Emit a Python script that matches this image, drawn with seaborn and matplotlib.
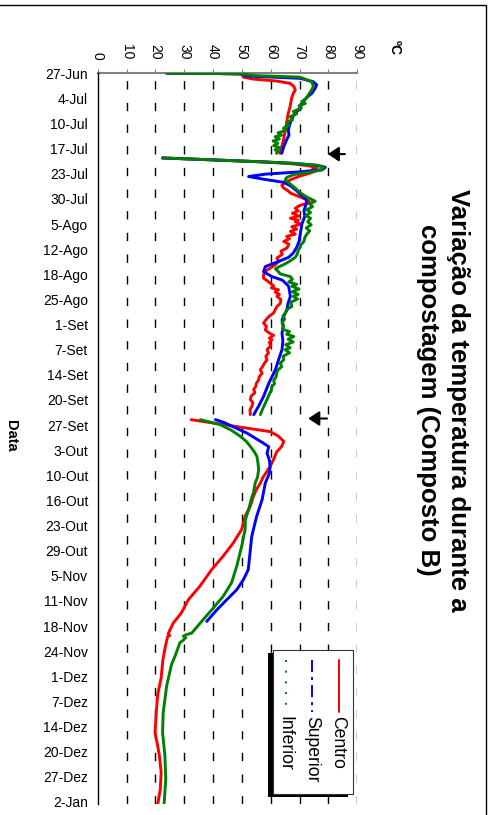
"""Variação da temperatura durante a compostagem (Composto B) - figura girada."""
import numpy as np
import pandas as pd
import matplotlib
matplotlib.use("Agg")
import matplotlib.pyplot as plt
from matplotlib.patches import Rectangle
from matplotlib.lines import Line2D
import seaborn as sns

sns.set_style("white")
plt.rcParams["font.family"] = ["Liberation Sans", "DejaVu Sans"]
plt.rcParams.update({"text.color": "black", "xtick.color": "black", "ytick.color": "black",
                     "axes.labelcolor": "black"})

# ── dados (dias desde 27-Jun, temperatura em ºC; NaN = interrupção) ──────
centro_dia = [0, 0.05, 0.15, 1.0, 1.5, 2.0, 2.6, 3.4, 4.3, 5.2, 6.5, 8.6, 10.5, 12.9, 15, 17.2, 19, 20.7, np.nan,
              21.9, 22.4, 22.9, 23.3, 23.8, 24.3, 24.8, 25.3, 25.8, 26.6, 27.5, 28.3, 29.0, 29.7, 30.4, 31.0,
              31.8, 32.4, 32.8, 33.4, 34.2, 34.9, 35.6, 36.2, 36.9, 37.5, 38.0, 38.4, 39.0, 39.7, 40.3, 40.9,
              41.6, 42.2, 42.8, 43.5, 44.2, 45.2, 46.0, 46.8, 47.8, 48.6, 49.5, 50.3, 51.0, 52.1, 53.0, 53.8,
              54.3, 55.0, 55.5, 56.0, 56.6, 57.2, 57.7, 58.5, 59.5, 60.3, 61.2, 62.0, 62.8, 63.6, 64.6, 65.5,
              66.4, 67.2, 67.8, 68.5, 68.9, 69.6, 70.5, 71.5, 72.3, 73.2, 74.1, 75.0, 75.8, 76.7, 77.6, 78.5,
              79.3, 80.2, 81.0, 81.8, 82.6, 83.5, 84.4, 85.2, 86.1, 87.0, 88.3, np.nan,
              89.6, 92.7, 93.8, 95.2, 96.5, 98.0, 99.5, 100.8, 103.0, 104.5, 106.0, 107.7, 109.4, 112.0, 114.6,
              118.0, 121.5, 124.9, 128.4, 132.7, 136.2, 139.6, 142.2, 145.0, 145.4, 145.8, 148.5, 151.7, 156.4,
              160.7, 165.4, 170.6, 174.0, 176.6, 180.9, 185.2, 189.1]
centro_temp = [24, 40, 50, 50.5, 54, 62, 66.7, 68, 68.5, 67.8, 67.2, 66.7, 66, 65.5, 65, 64.4, 63.8, 63.2, np.nan,
               22.5, 40, 56, 66, 72, 76, 74.5, 75.5, 73.7, 70, 67, 65, 63.8, 64.5, 66, 66.8,
               69.5, 71.5, 72.5, 73.7, 70, 68.5, 69.5, 67.5, 69.8, 66.8, 69.5, 68.5, 70.5, 67.3, 69, 66.8,
               68.5, 65.5, 66.5, 64.5, 66.3, 65.6, 63.5, 64, 62.1, 62.8, 61.6, 60, 58.5, 57.5, 57.5, 59,
               59.8, 61, 60.2, 62.7, 61.5, 63, 62.1, 63.5, 63.3, 62.2, 61.5, 61, 59.5, 58.5, 57.5, 58.5,
               58.1, 59.5, 61, 59.5, 60.4, 59.5, 60, 58.7, 59.2, 58.3, 58.7, 57.8, 57.2, 56.4, 57, 56,
               55.8, 55, 54.8, 54.1, 54.5, 53.2, 52.9, 53.8, 53.5, 52.8, 52.9, np.nan,
               32.4, 59.8, 62.5, 64.5, 63.8, 62, 61.2, 60.4, 58.7, 57.3, 56.4, 55, 54, 52.9, 51.1,
               49.9, 47, 43.5, 39.5, 35.4, 31.4, 29, 26.2, 24.4, 25, 24.2, 23.4, 22.6, 22.0,
               20.8, 20.3, 19.9, 20.8, 21.4, 22.0, 21.7, 20.8]

superior_dia = [0, 0.05, 0.15, 0.7, 1.3, 2.2, 3.0, 4.0, 5.2, 6.2, 7.3, 8.4, 9.5, 11.0, 12.9, 14.6, 16.0, 17.2,
                19.0, 20.7, np.nan,
                21.9, 22.4, 22.9, 23.3, 23.8, 24.3, 24.9, 25.5, 26.1, 26.7, 27.4, 28.2, 29.2, 30.4, 31.5, 32.8,
                34.0, 35.5, 37.0, 39.0, 41.6, 43.5, 45.0, 46.5, 47.6, 48.5, 50.0, 51.3, 52.6, 53.5, 55.1, 57.7,
                59.5, 61.2, 63.8, 65.5, 67.2, 69.3, 71.5, 74.1, 76.7, 80.2, 83.6, 86.1, 88.3, np.nan,
                89.6, 90.3, 93.1, 95.7, 96.6, 98.3, 100.0, 101.8, 103.5, 106.0, 110.3, 114.6, 119.8, 124.1,
                128.4, 131.0, 133.6, 136.2, 138.8, 141.8]
superior_temp = [24, 40, 49.4, 51.7, 70.2, 74.8, 75.9, 75.3, 74.2, 72.5, 71.3, 70.5, 69.6, 67.8, 66.7, 66.1, 66.3,
                 65.5, 64.5, 63.8, np.nan,
                 22.5, 40, 57, 68, 76, 78.9, 78, 70, 58, 52.3, 57.5, 64.5, 67, 69, 70.5, 72.5,
                 72.2, 71.5, 71.8, 70.8, 70.2, 69.8, 69, 67.8, 66.2, 63.3, 58.1, 57.5, 60.4, 64, 66.2, 66.8,
                 66, 65.6, 63.9, 64.3, 63.9, 64.2, 63.9, 62.7, 61.6, 59.3, 57.5, 55.8, 54.1, np.nan,
                 40.8, 43.7, 51.8, 57.5, 59.3, 58.7, 59.5, 59.8, 59.5, 58.1, 57, 55.1, 53.4, 52.8,
                 52.2, 50.5, 48.2, 44.7, 41.3, 37.8]

inferior_dia = [0, 0.05, 0.15, 0.6, 1.0, 2.2, 3.4, 4.5, 5.6, 6.4, 7.3, 7.8, 8.4, 9.0, 9.9, 10.5, 11.2, 12.1, 12.7,
                13.4, 14.2, 14.8, 15.4, 16.0, 16.4, 17.0, 17.5, 18.1, 18.7, 19.3, 19.8, 20.3, 20.7, np.nan,
                21.9, 22.4, 22.9, 23.3, 23.8, 24.3, 25.0, 25.6, 26.2, 26.9, 27.6, 28.5, 29.5, 30.9, 32.0, 33.1,
                33.8, 34.5, 35.3, 36.0, 36.8, 37.5, 38.4, 39.2, 40.0, 40.8, 41.6, 42.5, 43.5, 44.3, 45.0, 45.8,
                46.8, 47.6, 48.5, 49.3, 50.0, 50.6, 51.2, 51.9, 52.6, 53.3, 54.0, 54.6, 55.1, 55.8, 56.5, 57.2,
                57.7, 58.4, 59.2, 60.3, 61.0, 62.0, 62.8, 63.6, 64.6, 65.4, 66.2, 66.8, 67.5, 68.1, 68.8, 69.5,
                70.2, 71.0, 71.5, 72.3, 73.2, 74.1, 75.0, 75.9, 76.7, 77.5, 78.6, 79.5, 80.3, 81.0, 82.0, 83.0,
                84.4, 85.5, 86.8, 88.3, np.nan,
                89.6, 90.9, 92.4, 93.9, 95.2, 96.5, 97.8, 99.1, 101.0, 102.6, 104.5, 106.0, 108.5, 109.5, 112.9,
                115.5, 118.0, 122.4, 127.5, 131.8, 135.3, 138.3, 141.3, 144.8, 145.2, 145.6, 146.0, 146.5, 147.3,
                150.8, 152.9, 158.5, 165.4, 170.6, 176.6, 182.6, 189.1]
inferior_temp = [24, 40, 49.4, 55, 70.2, 74.2, 74.8, 74, 73, 72.5, 70.7, 72, 69.8, 70.6, 67.8, 69, 66.8, 67.5, 65.5,
                 66.3, 64.4, 65.2, 62.5, 63.8, 61.5, 63, 60.8, 62.5, 61, 63.3, 61.5, 62.7, 62, np.nan,
                 22.5, 40, 57, 68, 76, 78.3, 77.8, 73, 68, 65.6, 65, 66.5, 68.2, 70.2, 72.5, 75.4,
                 73.5, 74.5, 72.5, 73.8, 72.2, 73.8, 72.8, 74, 72.3, 73.5, 72.5, 71.8, 71.5, 70.5, 70.2, 69.5,
                 69.2, 68.5, 66.8, 65, 63, 61.6, 62.5, 63.3, 66.8, 67.5, 66.2, 69, 67.3, 69.8, 67.5, 69.5,
                 67.8, 69.3, 67, 67.3, 65.8, 65, 64.2, 64.8, 63.9, 64.5, 64, 66.5, 65.5, 68, 66, 67.8,
                 65.2, 66.7, 65, 66.5, 64.3, 64.5, 63.3, 63.8, 62.5, 62.1, 61.8, 61, 61.3, 60.4, 60.2, 59.5,
                 58.7, 58, 57.2, 56.4, np.nan,
                 35.6, 42.5, 46.5, 49.4, 51.5, 52.9, 54.2, 55.2, 55.6, 55.8, 55.4, 54.6, 54, 53.5, 52.3,
                 51.2, 51.1, 49.9, 48.2, 46.4, 43.5, 40.1, 36.6, 32.6, 30.8, 29.7, 30.5, 29.9, 28.5,
                 26.8, 25.6, 23.9, 22.7, 22.5, 23.3, 23.6, 23.0]

series = ["Centro", "Superior", "Inferior"]
cores = ["#FF0000", "#0000FF", "#008000"]
datas = ["27-Jun", "4-Jul", "10-Jul", "17-Jul", "23-Jul", "30-Jul", "5-Ago", "12-Ago", "18-Ago", "25-Ago",
         "1-Set", "7-Set", "14-Set", "20-Set", "27-Set", "3-Out", "10-Out", "16-Out", "23-Out", "29-Out",
         "5-Nov", "11-Nov", "18-Nov", "24-Nov", "1-Dez", "7-Dez", "14-Dez", "20-Dez", "27-Dez", "2-Jan"]
temp_ticks = [0, 10, 20, 30, 40, 50, 60, 70, 80, 90]
seta_dia = [20.9, 89.3]
seta_ponta = [79.8, 73.0]
seta_cauda = [85.7, 79.5]

# ── tabela longa ─────────────────────────────────────────────────────────
frames = []
for nome, dia, temp in zip(series, [centro_dia, superior_dia, inferior_dia],
                           [centro_temp, superior_temp, inferior_temp]):
    d = pd.DataFrame({"dia": dia, "temp": temp})
    d["seg"] = d["dia"].isna().cumsum()
    d["serie"] = nome
    frames.append(d.dropna())
df = pd.concat(frames, ignore_index=True)
df["unid"] = df["serie"] + df["seg"].astype(str)

W, H = 493, 815
fig = plt.figure(figsize=(W / 100, H / 100), dpi=100)
ax = fig.add_axes([97.7 / W, 1 - 804.3 / H, 259.6 / W, 731 / H])


def px(x, y):
    return x / W, 1 - y / H


sns.lineplot(data=df, x="temp", y="dia", hue="serie", units="unid", estimator=None, sort=False,
             palette=dict(zip(series, cores)), hue_order=series, lw=2.1, legend=False, ax=ax)

ax.set_xlim(0, 90)
ax.set_ylim(189.1, 0)
ax.set_xticks(temp_ticks)
ax.set_xticklabels([str(t) for t in temp_ticks], rotation=-90, fontsize=10)
ax.set_yticks(np.arange(len(datas)) * 6.5)
ax.set_yticklabels(datas, fontsize=10)
ax.xaxis.tick_top()
ax.tick_params(axis="x", which="both", top=True, bottom=False, length=3, color="#808080", pad=7)
ax.tick_params(axis="y", length=0, pad=7)
for lab in ax.get_xticklabels():
    lab.set_va("bottom")
    lab.set_ha("center")
ax.set_xlabel("")
ax.set_ylabel("")
for s in ["right", "bottom"]:
    ax.spines[s].set_visible(False)
ax.spines["top"].set_color("#808080")
ax.spines["top"].set_linewidth(1.5)
ax.spines["left"].set_color("black")
ax.spines["left"].set_linewidth(1.0)
ax.spines["top"].set_zorder(0.5)

for t in temp_ticks[1:]:
    ax.axvline(t, color="black", lw=1.0, linestyle=(0, (6.0, 9.6)), zorder=0)

for d, ponta, cauda in zip(seta_dia, seta_ponta, seta_cauda):
    ax.annotate("", xy=(ponta, d), xytext=(cauda, d),
                arrowprops=dict(arrowstyle="-|>,head_length=0.6,head_width=0.4",
                                mutation_scale=11, color="black", lw=1.5, shrinkA=0, shrinkB=0))

# títulos
fig.text(*px(443, 400), "Variação da temperatura durante a\ncompostagem (Composto B)",
         rotation=-90, ha="center", va="center", multialignment="center",
         fontsize=18.5, fontweight="bold", linespacing=1.35)
fig.text(*px(395, 48), "ºC", rotation=-90, ha="center", va="center", fontsize=10, fontweight="bold")
fig.text(*px(11, 436), "Data", rotation=-90, ha="center", va="center", fontsize=10.5, fontweight="bold")

# legenda (desenhada à mão, girada)
x0, y0, x1, y1 = 272.7, 650, 352.7, 794
fig.add_artist(Rectangle(px(x0 - 4.4, y1 + 3.3), (x1 - x0) / W, (y1 - y0) / H,
                         transform=fig.transFigure, facecolor="black", edgecolor="none"))
fig.add_artist(Rectangle(px(x0, y1), (x1 - x0) / W, (y1 - y0) / H,
                         transform=fig.transFigure, facecolor="white", edgecolor="#333333", lw=0.8))
estilos = ["-", (0, (6.2, 2.6, 1.5, 2.6)), (0, (1.0, 4.5))]
for nome, cor, est, xl in zip(series, cores, estilos, [339, 312.3, 286]):
    fig.add_artist(Line2D([xl / W, xl / W], [1 - 660 / H, 1 - 712 / H], transform=fig.transFigure,
                          color=cor, lw=1.4, linestyle=est))
    fig.text(*px(xl - 1, 716), nome, rotation=-90, ha="center", va="top", fontsize=12.7)

# moldura
fig.add_artist(Rectangle((-0.01, -0.01), 486 / W + 0.01, 1 - 5 / H + 0.01, transform=fig.transFigure,
                         facecolor="none", edgecolor="black", lw=1.0))

fig.savefig("out.png", dpi=100)
print("ok")
